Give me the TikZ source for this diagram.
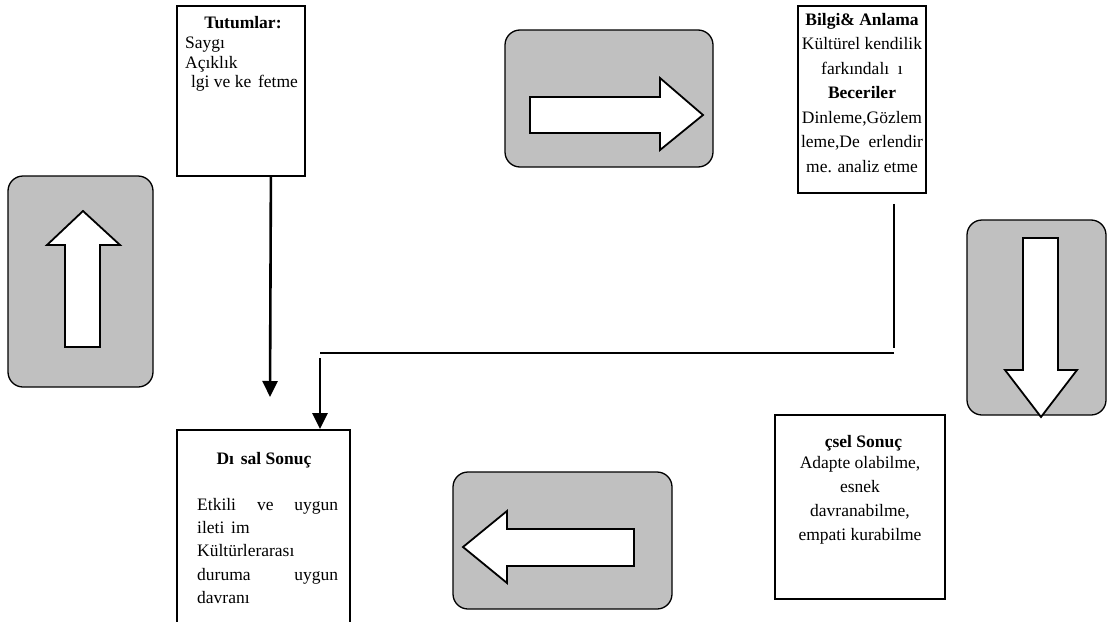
\documentclass[tikz,border=0pt]{standalone}
\usepackage{fontspec}
\setmainfont{Liberation Serif}
\usetikzlibrary{shapes,arrows.meta,positioning}
\definecolor{grikutu}{HTML}{C0C0C0}
\tikzstyle{kutu} = [rectangle, draw, line width=1.8pt, inner sep=0pt]
\tikzstyle{gri} = [rectangle, draw, fill=grikutu, rounded corners=15pt, line width=1.3pt, inner sep=0pt]
\tikzstyle{blok} = [draw, fill=white, line width=1.8pt, line join=miter]
\tikzstyle{yazi} = [inner sep=0pt, font=\fontsize{17.5}{20.5}\selectfont]
\tikzstyle{line} = [draw, line width=2.6pt, -{Triangle[length=16pt,width=15pt]}]
\tikzstyle{ince} = [draw, line width=1.6pt]

\begin{document}
\begin{tikzpicture}[x=1pt, y=-1pt]
    \useasboundingbox (0,0) rectangle (1107,621);
    \clip (0,0) rectangle (1107,621);

    % Gri kutular ve blok oklar
    \node [gri, minimum width=145pt, minimum height=211pt] (yukari) at (80.5,281.5) {};
    \node [gri, minimum width=208pt, minimum height=137pt] (sag) at (609,98.5) {};
    \node [gri, minimum width=139pt, minimum height=195pt] (asagi) at (1036.5,317.5) {};
    \node [gri, minimum width=219pt, minimum height=137pt] (sol) at (562.5,540.5) {};
    \draw [blok] (65,347) -- (65,245) -- (47,245) -- (83,211) -- (120,245) -- (100,245) -- (100,347) -- cycle;
    \draw [blok] (530,97) -- (660,97) -- (660,78) -- (703,115) -- (660,150) -- (660,133) -- (530,133) -- cycle;
    \draw [blok] (1023,238) -- (1058,238) -- (1058,370) -- (1077,370) -- (1041,417) -- (1005,370) -- (1023,370) -- cycle;
    \draw [blok] (634,529) -- (507,529) -- (507,511) -- (463,547) -- (507,583) -- (507,566) -- (634,566) -- cycle;

    % Metin kutulari
    \node [kutu, minimum width=128pt, minimum height=170pt] (tut) at (241,91) {};
    \node [kutu, minimum width=128pt, minimum height=187pt] (bil) at (862,99.5) {};
    \node [kutu, minimum width=173pt, minimum height=210pt] (dis) at (263.5,535) {};
    \node [kutu, minimum width=170pt, minimum height=184pt] (ic) at (860,507) {};

    \node [yazi] (tutbas) at (243,23) {\textbf{Tutumlar:}};
    \node [yazi, anchor=north west, align=left, font=\fontsize{17.5}{19.5}\selectfont] (tutyaz) at (185,37) {Saygı\\Açıklık\\\phantom{İ}lgi ve ke\phantom{ş}fetme};
    \node [yazi, anchor=north, align=center, font=\fontsize{17.5}{24.5}\selectfont] (bilyaz) at (862,13) {\textbf{Bilgi\& Anlama}\\Kültürel kendilik\\farkındalı\phantom{ğ}ı\\\textbf{Beceriler}\\Dinleme,Gözlem\\leme,De\phantom{ğ}erlendir\\me. analiz etme};
    \node [yazi] (disbas) at (264,460) {\textbf{Dı\phantom{ş}sal Sonuç}};
    \node [yazi, anchor=north west, align=left, text width=141pt, font=\fontsize{17.5}{23.3}\selectfont] (disyaz) at (197,498) {Etkili\hfill ve\hfill uygun\\ileti\phantom{ş}im\\Kültürlerarası\\duruma\hfill uygun\\davranı};
    \node [yazi] (icbas) at (860,442) {\textbf{\phantom{İ}çsel Sonuç}};
    \node [yazi, anchor=north, align=center, font=\fontsize{17.5}{24}\selectfont] (icyaz) at (860,456) {Adapte olabilme,\\esnek\\davranabilme,\\empati kurabilme};

    % Baglantilar
    \coordinate (ok1uc) at (270,397);
    \coordinate (kose) at (894,353);
    \coordinate (donus) at (320,353);
    \path [line] ([xshift=-35pt]tut.south east) -- (ok1uc);
    \path [ince] ([yshift=-10pt]bil.south -| kose) -- ([yshift=5pt]kose);
    \path [ince] (kose) -- (donus);
    \path [line] ([yshift=-5pt]donus) -- (dis.north -| donus);

\end{tikzpicture}
\end{document}
